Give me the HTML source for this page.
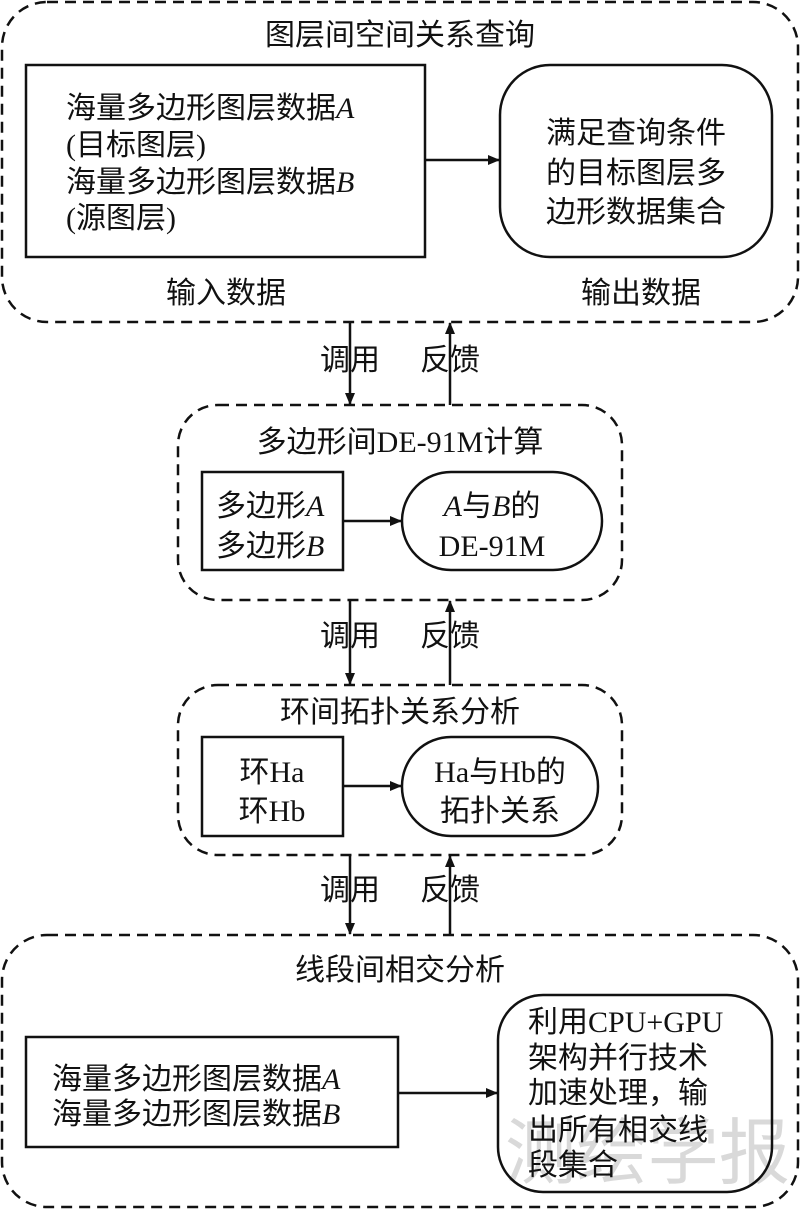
<!DOCTYPE html>
<html><head><meta charset="utf-8"><style>
html,body{margin:0;padding:0;background:#fff;}
svg text{font-family:"Liberation Serif","Noto Sans CJK SC",serif;fill:#111;}
</style></head><body>
<svg width="800" height="1210" viewBox="0 0 800 1210" xmlns="http://www.w3.org/2000/svg">
<defs><marker id="ah" markerWidth="12" markerHeight="10" refX="11" refY="5" orient="auto" markerUnits="userSpaceOnUse"><path d="M0,0 L12,5 L0,10 Z" fill="#111"/></marker></defs>
<text x="505" y="1178" font-size="72" textLength="285" lengthAdjust="spacingAndGlyphs" style="fill:#d9d9d9">测绘学报</text>
<g fill="none" stroke="#111" stroke-width="2.5">
<rect x="2" y="2" width="796" height="320" rx="45" stroke-dasharray="11,7"/>
<rect x="178" y="405" width="444" height="195" rx="40" stroke-dasharray="11,7"/>
<rect x="178" y="685" width="444" height="170" rx="40" stroke-dasharray="11,7"/>
<rect x="2" y="935" width="796" height="272" rx="45" stroke-dasharray="11,7"/>
<rect x="26" y="65" width="399" height="192"/>
<rect x="500" y="65" width="272" height="192" rx="50"/>
<rect x="202" y="472" width="141" height="98"/>
<rect x="402" y="472" width="200" height="98" rx="49"/>
<rect x="202" y="737" width="141" height="99"/>
<rect x="402" y="737" width="196" height="99" rx="49"/>
<rect x="26" y="1037" width="372" height="110"/>
<rect x="498" y="995" width="274" height="197" rx="45"/>
<line x1="425" y1="160" x2="499" y2="160" marker-end="url(#ah)"/>
<line x1="343" y1="521" x2="401" y2="521" marker-end="url(#ah)"/>
<line x1="343" y1="786" x2="401" y2="786" marker-end="url(#ah)"/>
<line x1="398" y1="1093" x2="497" y2="1093" marker-end="url(#ah)"/>
<line x1="350" y1="322" x2="350" y2="404" marker-end="url(#ah)"/>
<line x1="450" y1="405" x2="450" y2="323" marker-end="url(#ah)"/>
<line x1="350" y1="600" x2="350" y2="684" marker-end="url(#ah)"/>
<line x1="450" y1="685" x2="450" y2="601" marker-end="url(#ah)"/>
<line x1="350" y1="855" x2="350" y2="934" marker-end="url(#ah)"/>
<line x1="450" y1="935" x2="450" y2="856" marker-end="url(#ah)"/>
</g>
<g font-size="30">
<text x="400" y="45" text-anchor="middle">图层间空间关系查询</text>
<text x="66" y="118">海量多边形图层数据<tspan font-style="italic">A</tspan></text>
<text x="66" y="155">(目标图层)</text>
<text x="66" y="192">海量多边形图层数据<tspan font-style="italic">B</tspan></text>
<text x="66" y="228">(源图层)</text>
<text x="636" y="143" text-anchor="middle">满足查询条件</text>
<text x="636" y="183" text-anchor="middle">的目标图层多</text>
<text x="636" y="222" text-anchor="middle">边形数据集合</text>
<text x="226" y="303" text-anchor="middle">输入数据</text>
<text x="641" y="303" text-anchor="middle">输出数据</text>
<text x="350" y="370" text-anchor="middle">调用</text>
<text x="450" y="370" text-anchor="middle">反馈</text>
<text x="400" y="452" text-anchor="middle">多边形间DE-91M计算</text>
<text x="216" y="516">多边形<tspan font-style="italic">A</tspan></text>
<text x="216" y="556">多边形<tspan font-style="italic">B</tspan></text>
<text x="492" y="516" text-anchor="middle"><tspan font-style="italic">A</tspan>与<tspan font-style="italic">B</tspan>的</text>
<text x="492" y="556" text-anchor="middle">DE-91M</text>
<text x="350" y="646" text-anchor="middle">调用</text>
<text x="450" y="646" text-anchor="middle">反馈</text>
<text x="400" y="722" text-anchor="middle">环间拓扑关系分析</text>
<text x="272" y="782" text-anchor="middle">环Ha</text>
<text x="272" y="821" text-anchor="middle">环Hb</text>
<text x="500" y="782" text-anchor="middle">Ha与Hb的</text>
<text x="500" y="821" text-anchor="middle">拓扑关系</text>
<text x="350" y="900" text-anchor="middle">调用</text>
<text x="450" y="900" text-anchor="middle">反馈</text>
<text x="400" y="980" text-anchor="middle">线段间相交分析</text>
<text x="52" y="1089">海量多边形图层数据<tspan font-style="italic">A</tspan></text>
<text x="52" y="1124">海量多边形图层数据<tspan font-style="italic">B</tspan></text>
<text x="528" y="1032">利用CPU+GPU</text>
<text x="528" y="1068">架构并行技术</text>
<text x="528" y="1103">加速处理，输</text>
<text x="528" y="1140">出所有相交线</text>
<text x="528" y="1175">段集合</text>
</g>
</svg>
</body></html>
